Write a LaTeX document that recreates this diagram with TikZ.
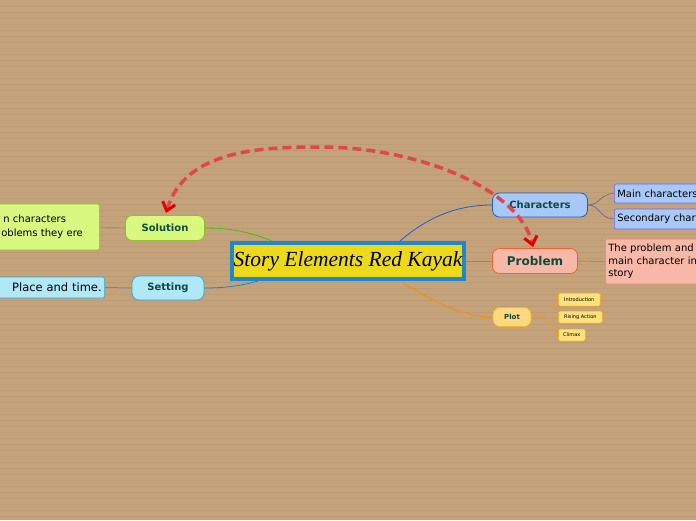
\documentclass[tikz,border=0pt]{standalone}
\usepackage{fontspec}
\setmainfont{DejaVu Sans}
\newfontfamily\titlefont{Liberation Serif}
\usetikzlibrary{arrows.meta}
\definecolor{bg}{HTML}{C4A27A}
\definecolor{lbl}{HTML}{0E4A3A}
\definecolor{cblue}{RGB}{30,96,208}
\definecolor{dred}{RGB}{224,72,72}
\tikzset{x=1pt,y=-1pt,
 br/.style={rounded corners=7pt,draw,line width=0.8pt,font=\bfseries\fontsize{10}{11}\selectfont,text=lbl,inner sep=0pt},
 sub/.style={rounded corners=2pt,draw,line width=0.6pt,font=\fontsize{10}{12}\selectfont,inner sep=3pt,anchor=west,align=left},
 tiny/.style={rounded corners=1.5pt,draw=orange!70!yellow,fill=yellow!60!orange!50,line width=0.5pt,font=\fontsize{5}{6}\selectfont,inner sep=0pt,anchor=west},
 con/.style={line width=0.8pt}}
\begin{document}
\begin{tikzpicture}
\fill[bg] (0,0) rectangle (696,520);
\clip (0,0) rectangle (696,520);
\foreach \y in {6,12,...,516} \draw[bg!85!black,line width=0.2pt,opacity=0.25] (0,\y)--(696,\y);
\node[draw={rgb,255:red,30;green,136;blue,200},line width=3.5pt,fill={rgb,255:red,236;green,218;blue,26},minimum width=232pt,minimum height=36pt,inner sep=0pt,font=\titlefont\itshape\fontsize{21.5}{22}\selectfont] (c) at (348,261) {Story Elements Red Kayak};
\node[br,draw={rgb,255:red,32;green,96;blue,192},minimum width=95pt,minimum height=24pt,fill={rgb,255:red,168;green,200;blue,248}] (ch) at (540,205) {Characters};
\node[br,fill={rgb,255:red,248;green,184;blue,168},draw={rgb,255:red,240;green,96;blue,48},minimum width=85pt,minimum height=25pt,font=\bfseries\fontsize{12}{13}\selectfont] (pr) at (535,261) {Problem};
\node[br,fill={rgb,255:red,255;green,216;blue,128},draw={rgb,255:red,248;green,184;blue,32},minimum width=38pt,minimum height=19pt,font=\bfseries\fontsize{7}{8}\selectfont] (pl) at (512,317) {Plot};
\node[br,fill={rgb,255:red,216;green,248;blue,128},draw={rgb,255:red,144;green,192;blue,48},minimum width=79pt,minimum height=25pt] (so) at (165,228) {Solution};
\node[br,fill={rgb,255:red,176;green,232;blue,248},draw={rgb,255:red,48;green,168;blue,216},minimum width=72pt,minimum height=24pt] (se) at (168,288) {Setting};
\node[sub,fill={rgb,255:red,168;green,200;blue,248},draw=blue!60,minimum height=19pt,text width=130pt] (m) at (614,193.5) {Main characters};
\node[sub,fill={rgb,255:red,168;green,200;blue,248},draw=blue!60,minimum height=20pt,text width=130pt] (s) at (614,219) {Secondary characters};
\node[sub,fill={rgb,255:red,248;green,184;blue,168},draw={rgb,255:red,240;green,130;blue,100},minimum height=45pt,text width=140pt,font=\fontsize{10}{12.5}\selectfont] (pt) at (605,261.5) {The problem and the\\main character in the\\story};
\node[tiny,minimum width=42pt,minimum height=13pt] (i1) at (558,299.5) {Introduction};
\node[tiny,minimum width=44pt,minimum height=12pt] (i2) at (558,317) {Rising Action};
\node[tiny,minimum width=27pt,minimum height=12pt] (i3) at (558,335) {Climax};
\node[sub,anchor=west,fill={rgb,255:red,216;green,248;blue,128},draw={rgb,255:red,144;green,192;blue,48},minimum height=46pt,text width=113pt,font=\fontsize{10}{14}\selectfont] (st) at (-20,227) {\hspace{20pt}n characters\\\hspace{18pt}oblems they ere};
\node[sub,anchor=east,fill={rgb,255:red,176;green,232;blue,248},draw={rgb,255:red,48;green,168;blue,216},minimum height=21pt,text width=150pt,align=right,font=\fontsize{11.5}{13}\selectfont] (pt2) at (105,287.5) {Place and time.};
% connectors
\draw[con,cblue] (400,241) .. controls (430,215) and (460,205) .. (ch.west);
\draw[con,orange!80!red] (c.east) -- (pr.west);
\draw[con,orange!90!yellow] (403,283) .. controls (440,305) and (465,317) .. (pl.west);
\draw[con,green!60!olive] (272,241) .. controls (245,230) and (225,228) .. (so.east);
\draw[con,cyan!70!blue] (258,281) .. controls (240,286) and (225,288) .. (se.east);
\draw[con,gray!70!blue,line width=0.5pt] (ch.east) .. controls (600,205) and (600,193.5) .. (m.west);
\draw[con,gray!70!blue,line width=0.5pt] (ch.east) .. controls (600,205) and (600,219) .. (s.west);
\draw[con,orange!70!red,line width=0.5pt] (pr.east) -- (pt.west);
\draw[con,green!60!olive,line width=0.5pt] (st.east) -- (so.west);
\draw[con,cyan!70!blue,line width=0.5pt] (pt2.east) -- (se.west);
\foreach \t in {i1,i2,i3} \draw[orange!80!yellow,line width=0.4pt] (pl.east) .. controls (545,317) and (545,317) .. (\t.west);
% dashed arrow
\coordinate (top) at (320,147);
\draw[dred,line width=3.5pt,dash pattern=on 9pt off 5pt,{Straight Barb[length=8pt,width=13pt,line width=3pt,color=red!90!black]}-{Straight Barb[length=8pt,width=13pt,line width=3pt,color=red!90!black]}]
 (166,213) .. controls (185,150) and (260,147) .. (top) .. controls (420,147) and (520,190) .. (533,247);
\end{tikzpicture}
\end{document}
